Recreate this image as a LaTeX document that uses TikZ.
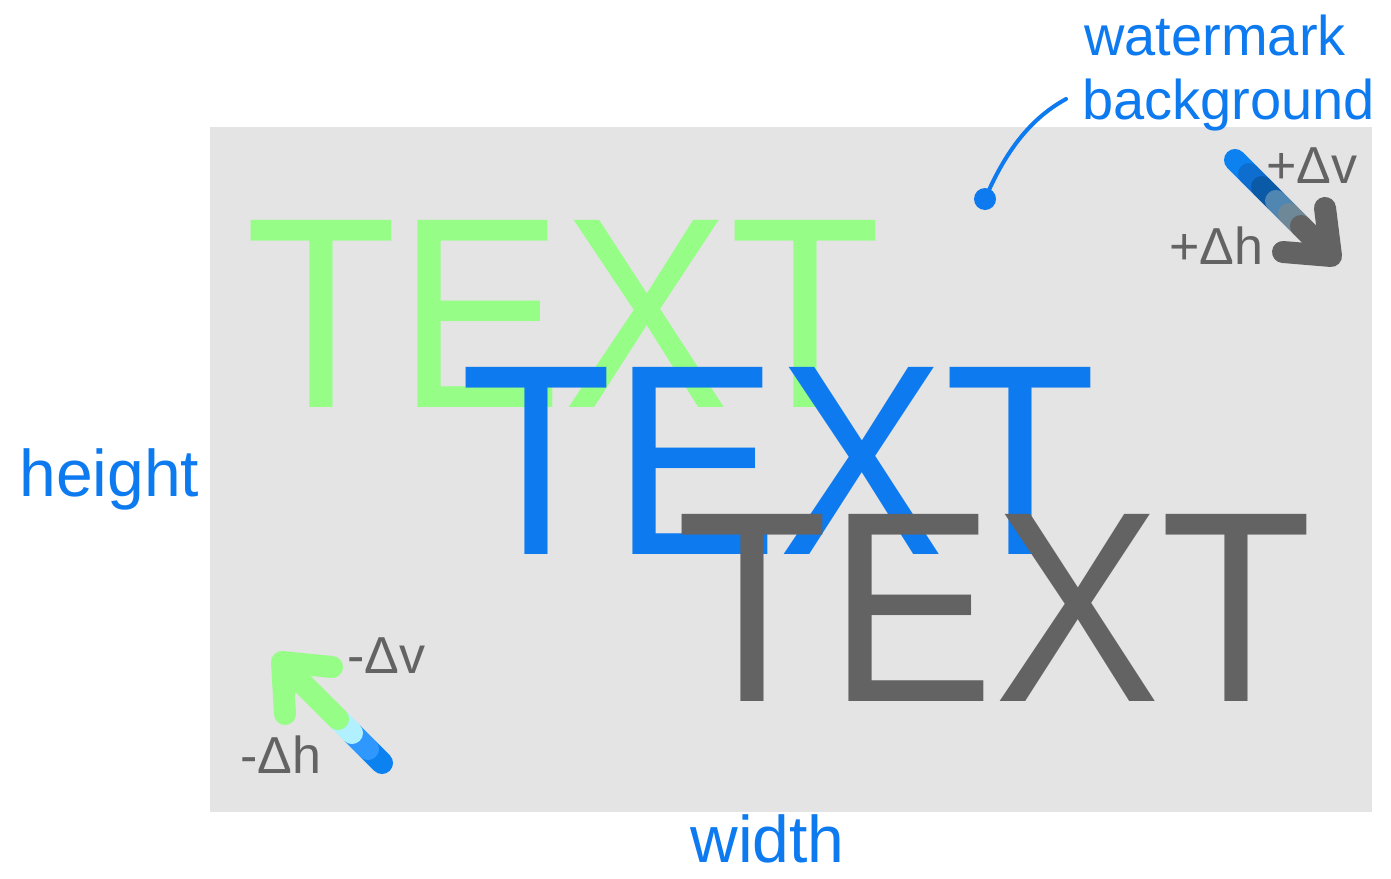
\documentclass[tikz,border=0pt]{standalone}
\usepackage{fontspec}
\setmainfont{Liberation Sans}
\usepackage{graphicx}
\usepackage{tikz}

\definecolor{wmblue}{RGB}{14,122,240}
\definecolor{wmgreen}{RGB}{150,254,135}
\definecolor{wmgray}{RGB}{99,99,99}
\definecolor{wmpaper}{RGB}{228,228,228}
\definecolor{trailA}{RGB}{12,130,240}
\definecolor{trailB}{RGB}{14,110,208}
\definecolor{trailC}{RGB}{10,90,168}
\definecolor{trailD}{RGB}{80,134,178}
\definecolor{trailE}{RGB}{110,136,152}
\definecolor{trailF}{RGB}{176,240,255}
\definecolor{trailG}{RGB}{47,152,255}

\begin{document}
\begin{tikzpicture}[x=0.5pt, y=-0.5pt,
    % --- Text styles ---
    bigtext/.style={anchor=base west, inner sep=0pt,
                    font=\fontsize{136}{136}\selectfont},
    dimlabel/.style={anchor=base west, inner sep=0pt, text=wmblue,
                     font=\fontsize{33}{33}\selectfont},
    wmlabel/.style={dimlabel, font=\fontsize{28}{28}\selectfont},
    delta/.style={anchor=base west, inner sep=0pt, text=wmgray,
                  font=\fontsize{26}{26}\selectfont},
    % --- Stroke styles ---
    trail/.style={line width=11pt, line cap=round},
    head/.style={trail, line join=round},
]
\useasboundingbox (0,0) rectangle (1391,878);

% === The watermark background ===
\fill[wmpaper] (210,127) rectangle (1372,812);

% === Three copies of the text ===
\node[bigtext, text=wmgreen] (txtgreen) at (245,407) {\scalebox{0.915}[1]{TEXT}};
\node[bigtext, text=wmblue]  (txtblue)  at (460,554) {\scalebox{0.915}[1]{TEXT}};
\node[bigtext, text=wmgray]  (txtgray)  at (676,701) {\scalebox{0.915}[1]{TEXT}};

% === Dimension labels ===
\node[dimlabel] (height) at (19,496) {height};
\node[dimlabel] (width)  at (690,862) {width};

% === Watermark label with pointer ===
\node[wmlabel] (wm) at (1084,55)  {watermark};
\node[wmlabel] (bg) at (1082,119) {background};
\node[circle, fill=wmblue, inner sep=0pt, minimum size=11pt] (dot) at (985,199) {};
\coordinate (tip) at (1066,99);
\draw[wmblue, line width=2pt, line cap=round]
  (dot.center) .. controls (1008,145) and (1035,116) .. (tip);

% === Offset +dh / +dv (top right) ===
\draw[trail, trailA] (1235,160) -- (1249,174);
\draw[trail, trailB] (1249,174) -- (1262,187);
\draw[trail, trailC] (1262,187) -- (1276,201);
\draw[trail, trailD] (1276,201) -- (1289,214);
\draw[trail, trailE] (1289,214) -- (1301,226);
\draw[trail, wmgray] (1301,226) -- (1329,254);
\draw[head, wmgray] (1325,208) -- (1331,256) -- (1283,252);
\node[delta] (pdv) at (1266,183) {+Δv};
\node[delta] (pdh) at (1169,264) {+Δh};

% === Offset -dh / -dv (bottom left) ===
\draw[trail, trailA] (382,763) -- (368,749);
\draw[trail, trailG] (368,749) -- (352,733);
\draw[trail, trailF] (352,733) -- (338,719);
\draw[trail, wmgreen] (338,719) -- (283,664);
\draw[head, wmgreen] (332,667) -- (282,662) -- (285,714);
\node[delta] (mdv) at (347,673) {-Δv};
\node[delta] (mdh) at (240,773) {-Δh};

\end{tikzpicture}
\end{document}
